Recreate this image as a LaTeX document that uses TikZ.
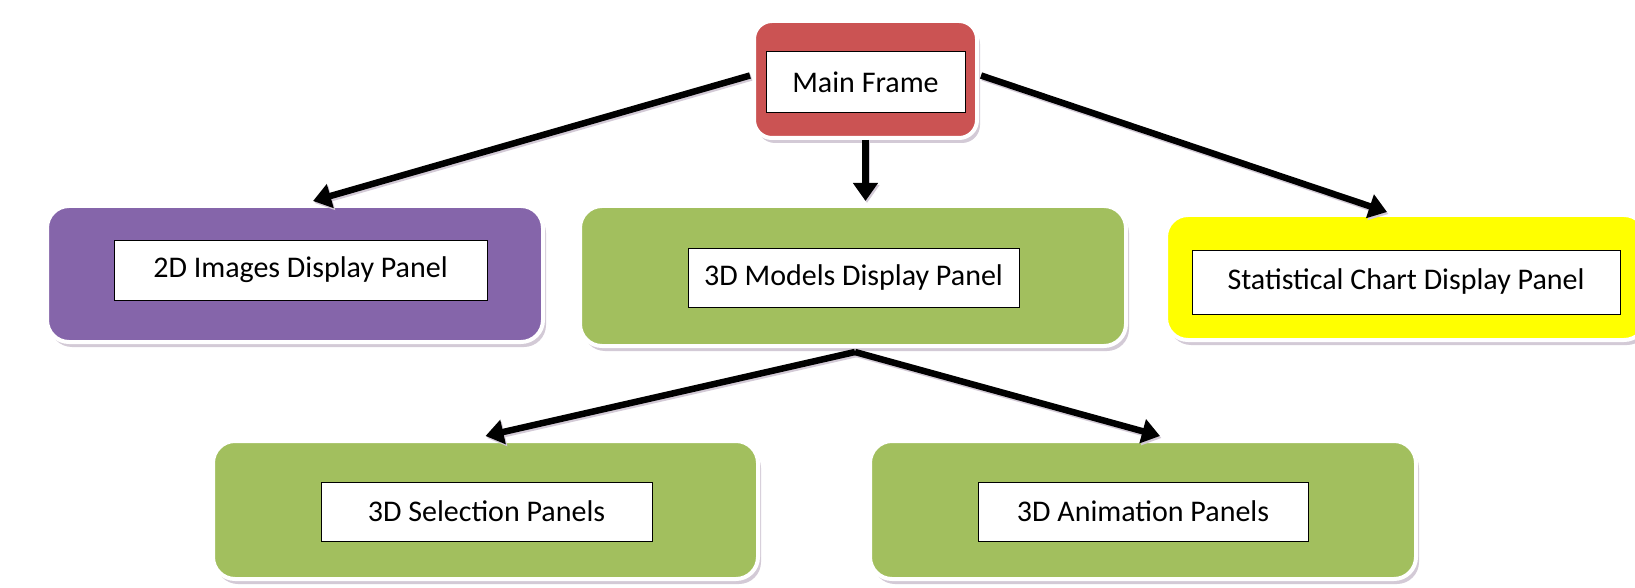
\documentclass[tikz,border=0pt]{standalone}
\usepackage{fontspec}
\setmainfont{Carlito}
\usetikzlibrary{arrows.meta,shadows,calc}
\definecolor{cred}{HTML}{CB5353}
\definecolor{cpurple}{HTML}{8565AA}
\definecolor{cgreen}{HTML}{A2BF5E}
\definecolor{cyellow}{HTML}{FFFF00}
\definecolor{cshadow}{HTML}{D3CAD6}
\tikzset{
  outerbox/.style={draw=white, line width=4pt, rounded corners=22pt, inner sep=0pt,
    drop shadow={shadow xshift=3pt, shadow yshift=-5pt, fill=cshadow, opacity=1}},
  innerbox/.style={draw=black, line width=1pt, fill=white, inner sep=0pt,
    font=\fontsize{30}{32}\selectfont},
  conn/.style={line width=6.5pt, -{Triangle[length=18pt,width=24pt]},
    preaction={draw=cshadow, line width=6.5pt, transform canvas={xshift=1.5pt,yshift=-2pt}}},
}
\begin{document}
\begin{tikzpicture}[x=1pt,y=-1pt]
\useasboundingbox (0,0) rectangle (1635,588);
\clip (0,0) rectangle (1635,588);
% outer boxes
\node[outerbox, fill=cred, minimum width=223pt, minimum height=117pt, rounded corners=18pt] (main) at (865.5,79.5) {};
\node[outerbox, fill=cpurple, minimum width=496pt, minimum height=136pt] (d2) at (295,274) {};
\node[outerbox, fill=cgreen, minimum width=546pt, minimum height=140pt] (models) at (853,276) {};
\node[outerbox, fill=cyellow, minimum width=480pt, minimum height=125pt] (stat) at (1406,277.5) {};
\node[outerbox, fill=cgreen, minimum width=545pt, minimum height=138pt] (sel) at (485.5,510) {};
\node[outerbox, fill=cgreen, minimum width=546pt, minimum height=138pt] (anim) at (1143,510) {};
% inner boxes
\node[innerbox, minimum width=199pt, minimum height=61pt] (mainT) at (865.5,82.5) {Main Frame};
\node[innerbox, minimum width=373pt, minimum height=60pt] (d2T) at (300.5,270) {2D Images Display Panel};
\node[innerbox, minimum width=331pt, minimum height=59pt] (modelsT) at (853.5,277.5) {3D Models Display Panel};
\node[innerbox, minimum width=428pt, minimum height=64pt] (statT) at (1406,282) {Statistical Chart Display Panel};
\node[innerbox, minimum width=331pt, minimum height=59pt] (selT) at (486.5,511.5) {3D Selection Panels};
\node[innerbox, minimum width=330pt, minimum height=59pt] (animT) at (1143,511.5) {3D Animation Panels};
% connectors
\draw[conn] ($(main.west)+(-2,-4)$) -- ($(d2.north)+(18,-3)$);
\draw[conn] (main.south) -- ($(main.south |- models.north)+(0,-3)$);
\draw[conn] ($(main.east)+(2,-4)$) -- ($(stat.north)+(-19,-1)$);
\draw[conn] ($(models.south)+(2,4)$) -- ($(sel.north)+(0,-3)$);
\draw[conn] ($(models.south)+(2,4)$) -- ($(anim.north)+(17,-3)$);
\end{tikzpicture}
\end{document}
